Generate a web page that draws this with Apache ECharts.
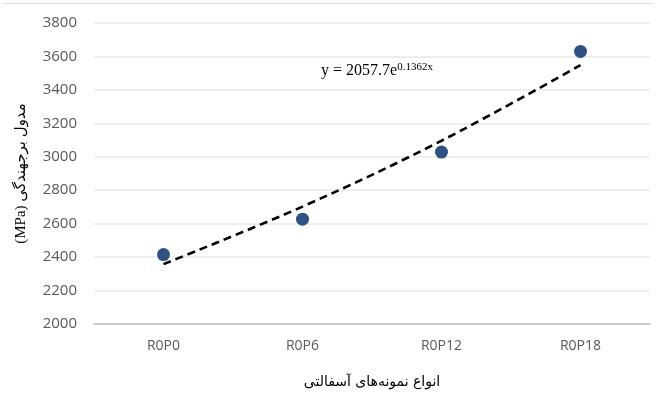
<!DOCTYPE html>
<html>
<head>
<meta charset="utf-8">
<script src="https://cdn.jsdelivr.net/npm/echarts@6/dist/echarts.min.js"></script>
<style>
  html, body { margin: 0; padding: 0; background: #fff; }
  #chart { width: 657px; height: 394px; }
</style>
</head>
<body>
<div id="chart"></div>
<script>
// Sample types and resilient modulus measurements
const categories = ['R0P0', 'R0P6', 'R0P12', 'R0P18'];
const modulus = [2415, 2627, 3028, 3630];
// Exponential trend y = 2057.7 e^(0.1362x), evaluated at x = 1..4
const trendValues = [2358, 2702, 3096, 3548];
const yTicks = [2000, 2200, 2400, 2600, 2800, 3000, 3200, 3400, 3600, 3800];

const chart = echarts.init(document.getElementById('chart'));
chart.setOption({
  animation: false,
  backgroundColor: '#fff',
  grid: { left: 94, right: 7, top: 23, bottom: 69, containLabel: false },
  xAxis: {
    type: 'category',
    data: categories,
    boundaryGap: true,
    axisLine: { show: true, lineStyle: { color: '#bfbfbf', width: 1.5 } },
    axisTick: { show: false },
    axisLabel: { color: '#595959', fontFamily: 'Open Sans', fontSize: 14, margin: 15 },
    name: 'انواع نمونه‌های آسفالتی',
    nameLocation: 'middle',
    nameGap: 51,
    nameTextStyle: { color: '#000', fontFamily: 'DejaVu Sans', fontSize: 14 }
  },
  yAxis: {
    type: 'value',
    min: yTicks[0],
    max: yTicks[yTicks.length - 1],
    interval: 200,
    axisLine: { show: false },
    axisTick: { show: false },
    splitLine: { lineStyle: { color: '#e8e8e8', width: 1.5 } },
    axisLabel: {
      color: '#595959', fontFamily: 'Open Sans', fontSize: 15, margin: 17,
      formatter: v => String(v)
    },
    name: '(MPa) مدول برجهندگی',
    nameLocation: 'middle',
    nameGap: 65,
    nameRotate: 90,
    nameTextStyle: { color: '#000', fontFamily: 'Liberation Serif, DejaVu Sans', fontSize: 15 }
  },
  series: [
    {
      name: 'trend',
      type: 'line',
      data: trendValues,
      smooth: 0.35,
      symbol: 'none',
      lineStyle: { color: '#000', width: 2.6, type: [8, 5] },
      z: 2
    },
    {
      name: 'modulus',
      type: 'scatter',
      data: modulus,
      symbol: 'circle',
      symbolSize: 13,
      itemStyle: { color: '#2f5283', opacity: 1 },
      z: 3
    }
  ],
  graphic: [
    {
      type: 'line',
      shape: { x1: 4, y1: 3.5, x2: 653, y2: 3.5 },
      style: { stroke: '#dcdcdc', lineWidth: 1 }
    },
    {
      type: 'text',
      left: 321,
      top: 62,
      style: {
        text: '{b|y = 2057.7e}{s|0.1362x}',
        rich: {
          b: { fontFamily: 'Liberation Serif', fontSize: 16, fill: '#000', verticalAlign: 'bottom' },
          s: { fontFamily: 'Liberation Serif', fontSize: 11, fill: '#000', verticalAlign: 'top', padding: [0, 0, 6, 0] }
        }
      }
    }
  ]
});
</script>
</body>
</html>
